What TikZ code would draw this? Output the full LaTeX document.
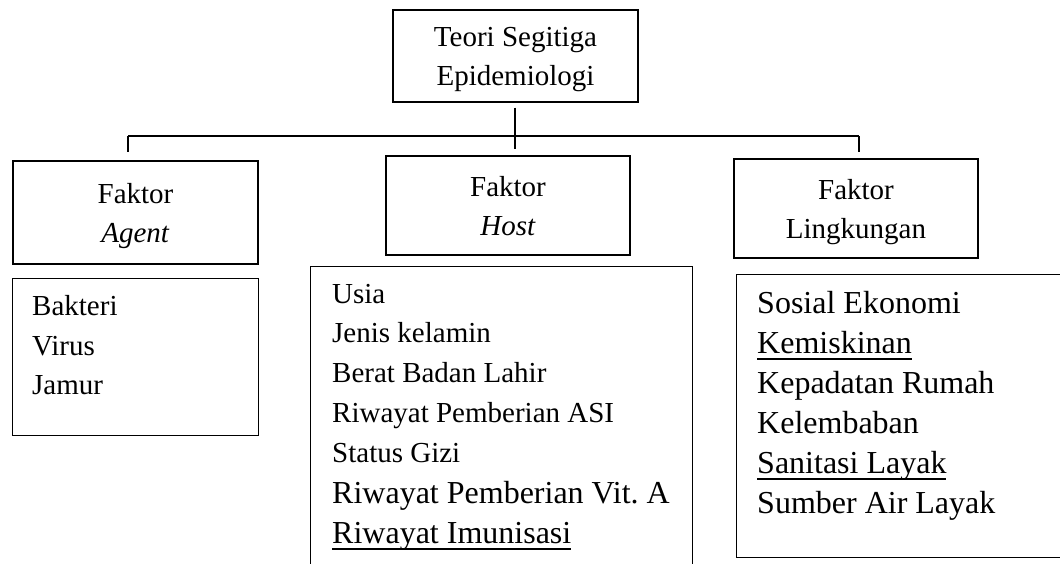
\documentclass[tikz,border=0pt]{standalone}
\usepackage{fontspec}
\setmainfont{Liberation Serif}
\usepackage{tikz}
\usetikzlibrary{positioning}

\newcommand{\huruf}{\fontsize{29}{39}\selectfont}
\newcommand{\besar}{\fontsize{32}{40}\selectfont}
\newcommand{\garis}[1]{\setbox0=\hbox{#1}\rlap{\rule[-6.5pt]{\wd0}{1.3pt}}\box0}

\begin{document}
\begin{tikzpicture}[x=1pt, y=-1pt,
    kotak/.style={draw, line width=1.3pt, minimum width=245pt, align=center,
      text depth=0pt, font=\huruf},
    daftar/.style={draw, line width=1.3pt, anchor=north west},
    item/.style={anchor=base west, inner sep=0pt, font=\huruf}]
  \useasboundingbox (0,0) rectangle (1060,563);
  \clip (0,0) rectangle (1060,563);

  \node[kotak, minimum height=92pt] (teori) at (515.5,56) {Teori Segitiga\\Epidemiologi};
  \node[kotak, minimum height=103pt] (agent) at (135.5,212.5) {Faktor\\\textit{Agent}};
  \node[kotak, minimum height=99pt, minimum width=244pt] (host) at (508,205.5) {Faktor\\\textit{Host}};
  \node[kotak, minimum height=99pt, minimum width=244pt] (lingkungan) at (856,208.5) {Faktor\\Lingkungan};

  % cabang
  \coordinate (busL) at (128,136);
  \coordinate (busM) at (515,136);
  \coordinate (busR) at (859,136);
  \draw[line width=1.2pt] ([yshift=-5pt]teori.south -| busM) -- (busM);
  \draw[line width=1.2pt] (busL) -- (busR);
  \draw[line width=1.2pt] (busL) -- ([yshift=8pt]agent.north -| busL);
  \draw[line width=1.2pt] (busM) -- ([yshift=6pt]host.north -| busM);
  \draw[line width=1.2pt] (busR) -- ([yshift=6pt]lingkungan.north -| busR);

  % kotak daftar
  \node[daftar, minimum width=246pt, minimum height=157pt] (agentlist) at (12,278) {};
  \node[daftar, minimum width=382pt, minimum height=320pt] (hostlist) at (310,266) {};
  \node[daftar, minimum width=340pt, minimum height=283pt] (linglist) at (736,274) {};

  \foreach \teks/\yy [count=\i] in {Bakteri/315, Virus/355, Jamur/394}
    \node[item] (agent-\i) at (32,\yy) {\teks};

  \foreach \teks/\yy [count=\i] in {Usia/303, Jenis kelamin/342, Berat Badan Lahir/382,
      Riwayat Pemberian ASI/422, Status Gizi/462, {\besar Riwayat Pemberian Vit.\ A}/503,
      {\besar\garis{Riwayat Imunisasi}}/543}
    \node[item] (host-\i) at (332,\yy) {\teks};

  \foreach \teks/\yy [count=\i] in {Sosial Ekonomi/313, \garis{Kemiskinan}/353,
      Kepadatan Rumah/393, Kelembaban/433, \garis{Sanitasi Layak}/473, Sumber Air Layak/513}
    \node[item, font=\besar] (ling-\i) at (757,\yy) {\teks};
\end{tikzpicture}
\end{document}
